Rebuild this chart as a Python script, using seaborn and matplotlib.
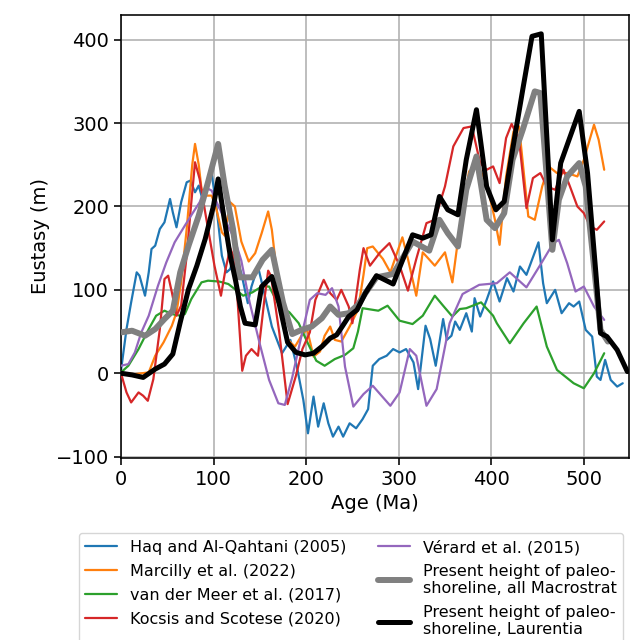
import matplotlib
matplotlib.use("Agg")
import matplotlib.pyplot as plt
import seaborn as sns

# =====================
# DATA
# =====================
haq_age = [0, 6, 11, 17, 20, 26, 30, 33, 37, 42, 47, 53, 56, 60, 65, 71, 75, 80, 84, 89,
           94, 98, 103, 109, 114, 118, 123, 130, 137, 141, 148, 154, 163, 174, 183, 190,
           197, 202, 208, 213, 219, 224, 229, 235, 240, 247, 254, 261, 267, 272, 279, 287,
           294, 301, 308, 316, 321, 329, 334, 340, 348, 352, 357, 361, 366, 373, 379, 382,
           388, 395, 402, 409, 417, 424, 431, 438, 444, 451, 456, 460, 469, 476, 484, 489,
           495, 502, 509, 514, 518, 523, 529, 536, 542]
haq_val = [3, 53, 85, 121, 117, 93, 121, 149, 153, 173, 181, 209, 193, 175, 205, 229, 231, 217,
           225, 205, 233, 239, 201, 141, 121, 125, 144, 120, 84, 104, 128, 100, 56, 24, 40, 8,
           -32, -72, -28, -64, -36, -60, -76, -64, -76, -60, -66, -55, -43, 9, 17, 21, 29, 25,
           29, 13, -19, 57, 41, 9, 65, 40, 45, 62, 52, 72, 50, 90, 68, 88, 110, 86, 114, 98,
           128, 118, 136, 157, 108, 84, 100, 72, 84, 80, 86, 52, 44, -4, -8, 16, -8, -16, -12]

marcilly_age = [0, 15, 30, 37, 46, 55, 60, 65, 71, 77, 80, 84, 87, 92, 98, 103, 109, 112, 118,
                123, 130, 138, 145, 152, 159, 163, 170, 179, 184, 188, 195, 201, 208, 215, 220,
                226, 231, 238, 247, 256, 262, 266, 272, 283, 291, 304, 310, 319, 326, 339, 350,
                358, 366, 376, 385, 395, 404, 409, 416, 424, 430, 440, 447, 455, 462, 471, 482,
                493, 500, 511, 516, 522]
marcilly_val = [0, -1, 1, 21, 37, 57, 73, 109, 173, 250, 275, 250, 221, 213, 213, 197, 169, 165,
                205, 200, 158, 134, 144, 168, 194, 172, 104, 42, 36, 32, 45, 53, 20, 26, 45, 56,
                40, 38, 56, 76, 118, 150, 152, 137, 121, 163, 137, 93, 145, 129, 145, 109, 176,
                242, 250, 228, 184, 154, 236, 290, 296, 188, 184, 224, 248, 240, 240, 236, 256,
                298, 280, 244]

meer_age = [0, 8, 19, 30, 38, 47, 55, 64, 69, 76, 87, 94, 106, 116, 124, 132, 142, 152, 160,
            171, 182, 192, 201, 211, 220, 231, 242, 251, 256, 261, 278, 288, 301, 315, 326, 339,
            348, 358, 366, 373, 389, 402, 406, 420, 435, 449, 460, 471, 489, 500, 511, 522]
meer_val = [1, 9, 29, 53, 69, 75, 71, 69, 71, 89, 109, 111, 110, 107, 100, 93, 97, 104, 104, 81,
            73, 60, 38, 15, 9, 17, 22, 30, 50, 78, 75, 81, 63, 59, 69, 93, 81, 68, 77, 78, 85,
            69, 60, 36, 60, 80, 32, 4, -12, -18, 0, 24]

kocsis_age = [0, 6, 11, 19, 24, 29, 35, 42, 47, 51, 55, 60, 65, 71, 76, 80, 85, 91, 96, 101,
              108, 113, 118, 123, 127, 131, 135, 141, 148, 155, 159, 162, 171, 180, 189, 196,
              204, 210, 219, 226, 233, 238, 246, 250, 258, 262, 269, 280, 290, 301, 310, 319,
              330, 339, 350, 359, 370, 379, 388, 395, 402, 409, 416, 422, 430, 438, 445, 453,
              460, 469, 478, 485, 493, 500, 507, 514, 522]
kocsis_val = [0, -23, -35, -23, -27, -33, -7, 53, 113, 117, 97, 69, 81, 141, 205, 253, 233, 193,
              161, 129, 93, 125, 150, 136, 70, 3, 21, 29, 21, 89, 123, 117, 49, -37, -3, 29, 49,
              88, 112, 96, 88, 100, 80, 60, 124, 150, 129, 145, 156, 129, 99, 137, 180, 184,
              224, 272, 294, 296, 252, 244, 248, 228, 282, 299, 280, 198, 234, 240, 224, 220,
              244, 224, 200, 192, 176, 172, 182]

verard_age = [0, 8, 15, 22, 30, 40, 49, 58, 69, 78, 85, 91, 98, 105, 112, 123, 130, 139, 150,
              160, 170, 177, 185, 194, 204, 212, 221, 228, 235, 242, 251, 262, 272, 291, 301,
              312, 319, 330, 341, 355, 369, 387, 406, 420, 438, 453, 467, 473, 482, 491, 500,
              511, 522]
verard_val = [9, 11, 25, 49, 69, 105, 133, 157, 177, 193, 205, 223, 219, 201, 185, 160, 135, 85,
              35, -8, -36, -38, -5, 40, 88, 96, 94, 102, 80, 8, -40, -25, -15, -39, -23, 29, 21,
              -39, -19, 60, 95, 106, 108, 121, 103, 130, 156, 160, 132, 98, 104, 80, 64]

macro_age = [0, 12, 26, 37, 47, 56, 64, 73, 84, 94, 105, 112, 121, 128, 142, 153, 163, 175, 185,
             195, 206, 217, 226, 235, 246, 256, 264, 276, 294, 315, 333, 344, 353, 364, 373, 384,
             395, 404, 414, 423, 434, 447, 453, 466, 473, 482, 495, 502, 511, 518, 526]
macro_val = [49, 51, 45, 53, 65, 75, 121, 153, 189, 229, 275, 225, 173, 115, 115, 136, 148, 85,
             47, 52, 56, 66, 80, 70, 72, 82, 96, 115, 119, 158, 147, 184, 168, 152, 220, 260, 184,
             174, 192, 256, 292, 338, 336, 148, 208, 236, 252, 224, 128, 52, 38]

laur_age = [0, 12, 24, 37, 47, 56, 64, 73, 82, 91, 100, 105, 111, 118, 124, 129, 134, 145, 152,
            163, 170, 180, 189, 199, 208, 217, 226, 233, 239, 246, 255, 264, 276, 294, 315, 326,
            335, 344, 353, 364, 373, 384, 395, 405, 414, 423, 434, 444, 454, 466, 475, 484, 495,
            504, 513, 518, 525, 536, 547]
laur_val = [0, -2, -5, 5, 11, 23, 61, 101, 129, 161, 201, 233, 189, 141, 110, 80, 60, 58, 104,
            116, 88, 37, 25, 22, 24, 32, 42, 46, 56, 68, 76, 96, 117, 107, 166, 162, 166, 212,
            196, 190, 256, 316, 224, 196, 206, 268, 340, 404, 407, 160, 252, 280, 314, 240, 120,
            48, 44, 28, 2]

series = [
    ("Haq and Al-Qahtani (2005)", haq_age, haq_val, "#1f77b4", 1.6),
    ("Marcilly et al. (2022)", marcilly_age, marcilly_val, "#ff7f0e", 1.6),
    ("van der Meer et al. (2017)", meer_age, meer_val, "#2ca02c", 1.6),
    ("Kocsis and Scotese (2020)", kocsis_age, kocsis_val, "#d62728", 1.6),
    ("Vérard et al. (2015)", verard_age, verard_val, "#9467bd", 1.6),
    ("Present height of paleo-\nshoreline, all Macrostrat", macro_age, macro_val, "gray", 4.3),
    ("Present height of paleo-\nshoreline, Laurentia", laur_age, laur_val, "black", 3.6),
]

# =====================
# PLOT
# =====================
sns.set_theme(style="ticks", rc={"text.color": "black", "axes.labelcolor": "black",
                                 "xtick.color": "black", "ytick.color": "black"})
plt.rcParams["font.family"] = ["DejaVu Sans"]

fig = plt.figure(figsize=(6.3, 6.4), dpi=100)
ax = fig.add_axes([0.192, 0.2844, 0.806, 0.6922])

for i, (name, age, val, col, lw) in enumerate(series):
    sns.lineplot(x=age, y=val, ax=ax, color=col, linewidth=lw, label=name,
                 estimator=None, sort=False, zorder=2 + i)

ax.set_xlim(0, 548.5)
ax.set_ylim(-101.6, 429.6)
ax.set_xticks([0, 100, 200, 300, 400, 500])
ax.set_yticks([-100, 0, 100, 200, 300, 400])
ax.grid(True, color="#b0b0b0", linewidth=1.15)
ax.set_axisbelow(True)
ax.set_xlabel("Age (Ma)", fontsize=14)
ax.set_ylabel("Eustasy (m)", fontsize=14)
ax.tick_params(labelsize=14, length=5, width=1.15, color="black")
for s in ax.spines.values():
    s.set_linewidth(1.15)
    s.set_color("black")

handles, labels = ax.get_legend_handles_labels()
ax.get_legend().remove()
fig.legend(handles, labels, loc="upper left", bbox_to_anchor=(0.125, 0.167),
           ncol=2, fontsize=11.5, borderaxespad=0, labelspacing=0.55,
           frameon=True, fancybox=True, edgecolor="#cccccc", framealpha=0.8)

fig.savefig("out.png", dpi=100)
